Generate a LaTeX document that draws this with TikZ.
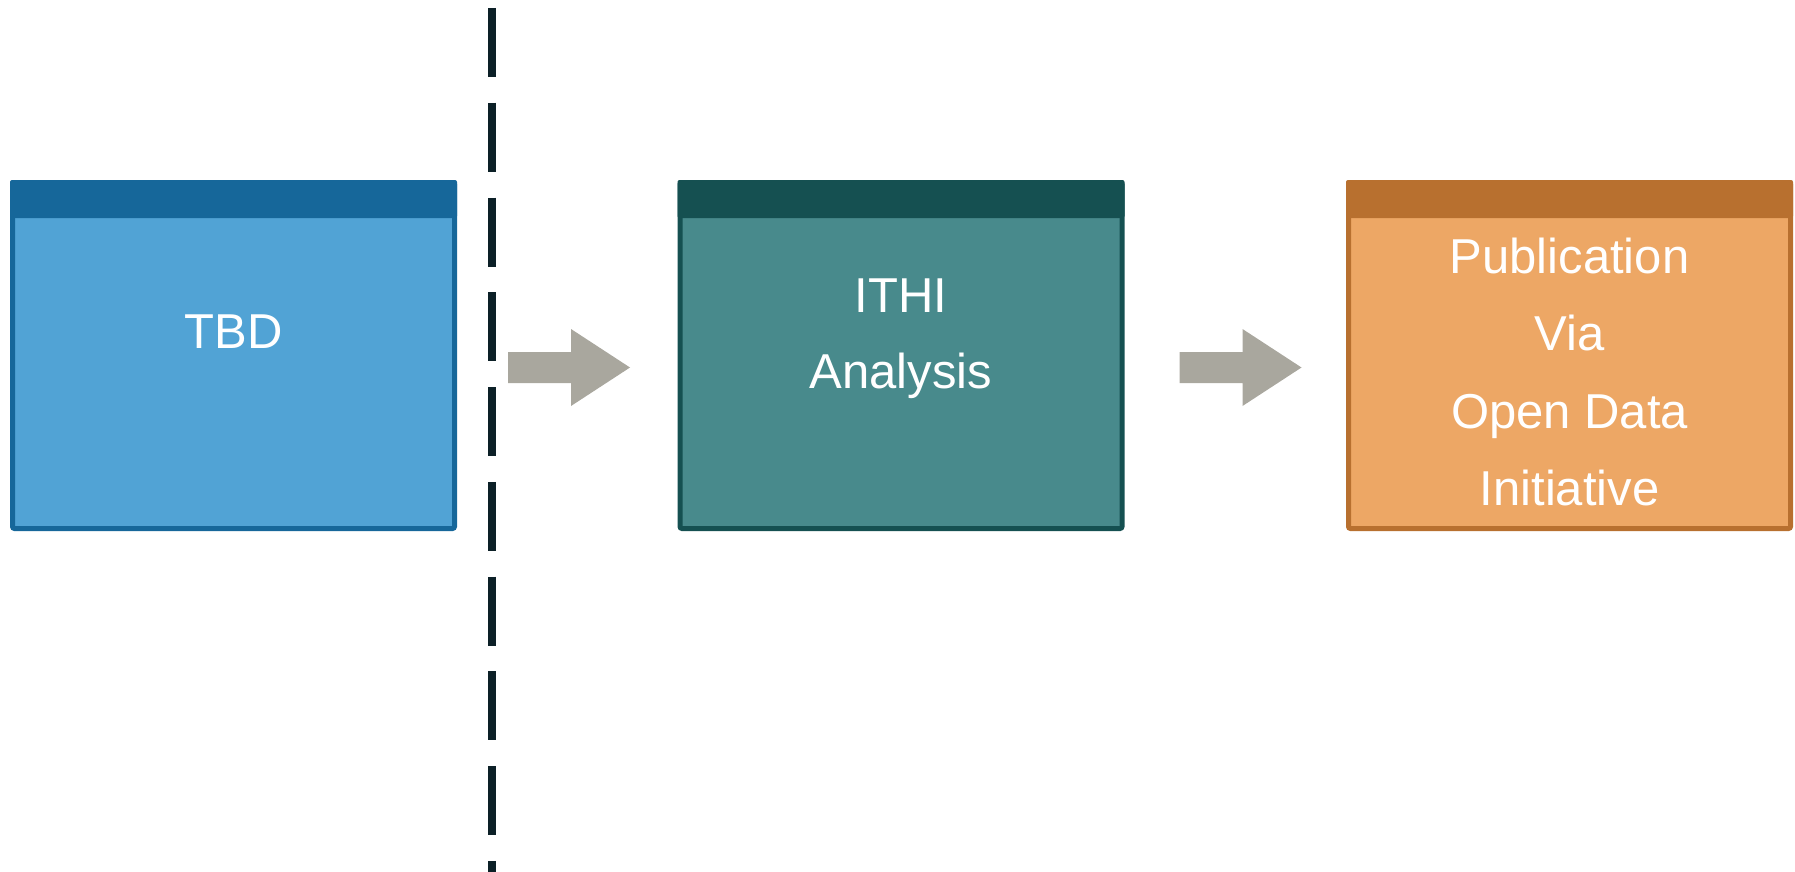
\documentclass[tikz,border=0pt]{standalone}
\usepackage{fontspec}
\setmainfont{Liberation Sans}
\definecolor{tbdedge}{HTML}{16679A}
\definecolor{tbdbody}{HTML}{51A3D5}
\definecolor{ithiedge}{HTML}{155051}
\definecolor{ithibody}{HTML}{488A8C}
\definecolor{pubedge}{HTML}{B8702F}
\definecolor{pubbody}{HTML}{EDA765}
\definecolor{arrowgrey}{HTML}{A9A79E}
\definecolor{dividerdark}{HTML}{0C2027}
\tikzset{
  box/.style={draw=#1, line width=5pt, rectangle, rounded corners=2pt,
    minimum width=442pt, minimum height=346pt, inner sep=0pt},
  word/.style={text=white, anchor=base, inner sep=0pt,
    font=\fontsize{49}{58}\selectfont},
  divider/.style={draw=dividerdark, line width=8pt, dash pattern=on 69pt off 25.75pt},
}
\begin{document}
\begin{tikzpicture}[x=1pt,y=-1pt]
\useasboundingbox (0,0) rectangle (1795,872);
% dashed separator
\coordinate (divtop) at (492,8);
\coordinate (divbot) at (492,872);
\draw[divider] (divtop)--(divbot);
% the three boxes
\node[box=tbdedge, fill=tbdbody] (tbd) at (233.5,355.5) {};
\node[box=ithiedge, fill=ithibody] (ithi) at (901,355.5) {};
\node[box=pubedge, fill=pubbody] (pub) at (1569.5,355.5) {};
\fill[tbdedge, rounded corners=2pt] (tbd.north west) rectangle (tbd.north east |- 0,218);
\fill[ithiedge, rounded corners=2pt] (ithi.north west) rectangle (ithi.north east |- 0,218);
\fill[pubedge, rounded corners=2pt] (pub.north west) rectangle (pub.north east |- 0,218);
% labels
\node[word] (tbdtxt) at (233.5,348) {TBD};
\node[word] (ithitxt) at (901,312) {ITHI};
\node[word] (anatxt) at (901,388) {Analysis};
\node[word] (pubtxt) at (1569.5,273) {Publication};
\node[word] (viatxt) at (1569.5,350) {Via};
\node[word] (opentxt) at (1569.5,428) {Open Data};
\node[word] (initxt) at (1569.5,505) {Initiative};
% block arrows
\coordinate (arr1) at ([xshift=51pt]tbd.east |- 0,367.5);
\coordinate (arr2) at ([xshift=55pt]ithi.east |- 0,367.5);
\fill[arrowgrey] (arr1) ++(0,-15.5) -- ++(63,0) -- ++(0,-23) -- ++(59,38.5)
  -- ++(-59,38.5) -- ++(0,-23) -- ++(-63,0) -- cycle;
\fill[arrowgrey] (arr2) ++(0,-15.5) -- ++(63,0) -- ++(0,-23) -- ++(59,38.5)
  -- ++(-59,38.5) -- ++(0,-23) -- ++(-63,0) -- cycle;
\end{tikzpicture}
\end{document}
